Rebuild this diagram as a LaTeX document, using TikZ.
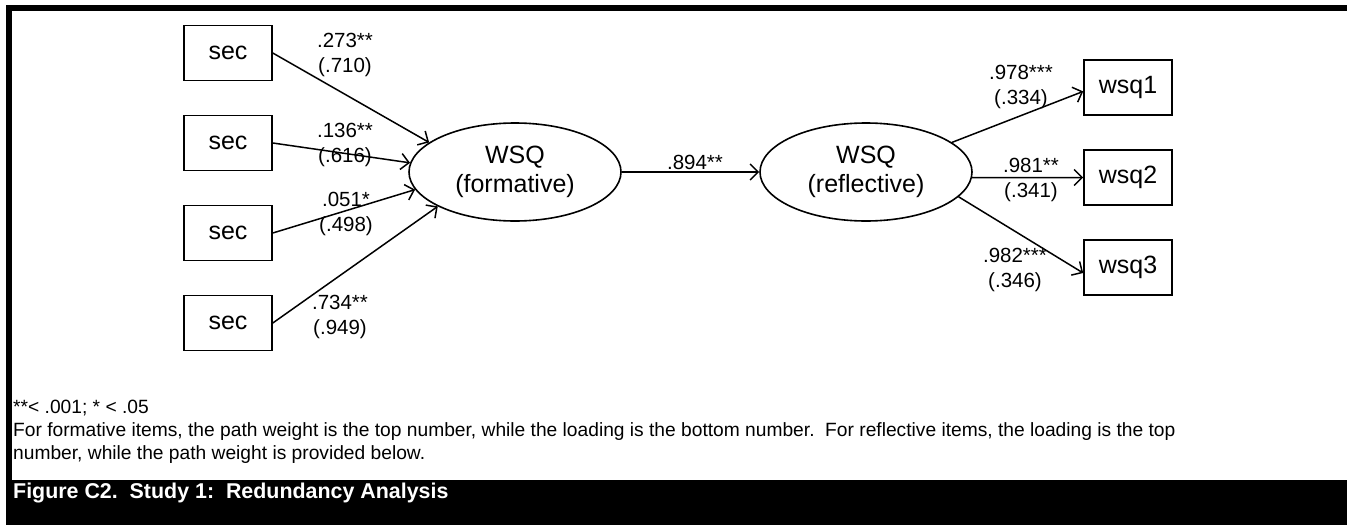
\documentclass[tikz,border=0pt]{standalone}
\usepackage{fontspec}
\setmainfont{Liberation Sans}
\usetikzlibrary{shapes.geometric,arrows.meta}

\begin{document}
\begin{tikzpicture}[x=1pt, y=-1pt,
        item/.style = {draw, line width=1.6pt, minimum width=88pt, minimum height=55pt, inner sep=0pt, font=\fontsize{25}{29}\selectfont},
        latent/.style = {draw, ellipse, line width=1.6pt, minimum width=212pt, minimum height=98pt, inner sep=0pt, align=center, font=\fontsize{25}{29}\selectfont},
        coef/.style = {inner sep=0pt, align=center, font=\fontsize{20.5}{24.5}\selectfont},
        arr/.style = {-{Straight Barb[length=8pt,width=16pt]}, line width=1.5pt},
        note/.style = {inner sep=0pt, anchor=base west, font=\fontsize{19.2}{23}\selectfont}]
    \useasboundingbox (0,0) rectangle (1347,525);
    % frame
    \fill (6,5) rectangle (1347,11);
    \fill (6,5) rectangle (12,480);
    \fill (6,480) rectangle (1347,525);

    \node[item] (s1) at (228,53) {sec};
    \node[item] (s2) at (228,143) {sec};
    \node[item] (s3) at (228,233) {sec};
    \node[item] (s4) at (228,323) {sec};
    \node[latent] (form) at (515,172) {WSQ\\(formative)};
    \node[latent] (refl) at (866,172) {WSQ\\(reflective)};
    \node[item] (q1) at (1128,87.5) {wsq1};
    \node[item] (q2) at (1128,177.5) {wsq2};
    \node[item] (q3) at (1128,267.5) {wsq3};

    \draw[arr] (s1.east) -- (form.161);
    \draw[arr] (s2.east) -- (form.175);
    \draw[arr] (s3.east) -- (form.190);
    \draw[arr] (s4.east) -- (form.204);
    \draw[arr] (form) -- (refl);
    \draw[arr] (refl.19) -- (q1.185);
    \draw[arr] (refl.-3) -- (q2.west);
    \draw[arr] (refl.-15) -- (q3.187);

    % weights and loadings
    \node[coef] (c1) at (345,55) {.273**\\(.710)};
    \node[coef] (c2) at (345,145) {.136**\\(.616)};
    \node[coef] (c3) at (346,214) {.051*\\(.498)};
    \node[coef] (c4) at (340,317) {.734**\\(.949)};
    \node[coef] (c5) at (695,162) {.894**};
    \node[coef] (c6) at (1021,87) {.978***\\(.334)};
    \node[coef] (c7) at (1031,180) {.981**\\(.341)};
    \node[coef] (c8) at (1015,270) {.982***\\(.346)};

    \node[note] (n1) at (13,413) {**< .001; * < .05};
    \node[note] (n2) at (13,436) {For formative items, the path weight is the top number, while the loading is the bottom number.\ \ For reflective items, the loading is the top};
    \node[note] (n3) at (13,459) {number, while the path weight is provided below.};
    \node[note, text=white, font=\fontsize{21.4}{25}\selectfont\bfseries] (cap) at (13,498) {Figure C2.\ \ Study 1:\ \ Redundancy Analysis};
\end{tikzpicture}
\end{document}
